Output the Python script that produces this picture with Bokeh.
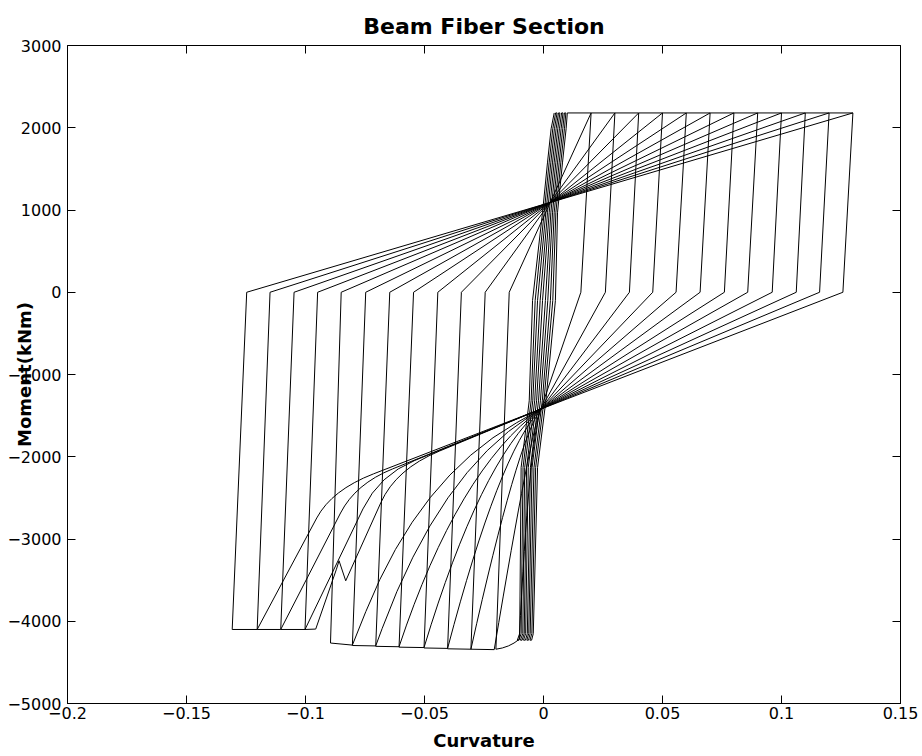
from bokeh.plotting import figure
from bokeh.models import Range1d, FixedTicker, LinearAxis, CustomJSTickFormatter
from bokeh.embed import file_html
from bokeh.resources import INLINE

# ---------------- data ----------------
x_ticks = [-0.2, -0.15, -0.1, -0.05, 0, 0.05, 0.1, 0.15]
x_tick_labels = ["\u22120.2", "\u22120.15", "\u22120.1", "\u22120.05", "0", "0.05", "0.1", "0.15"]
y_ticks = [-5000, -4000, -3000, -2000, -1000, 0, 1000, 2000, 3000]
y_tick_labels = ["\u22125000", "\u22124000", "\u22123000", "\u22122000", "\u22121000", "0", "1000", "2000", "3000"]

# dense bundle of small cycles near zero curvature
bundle_moment = [-4230, -4150, -2130, -1320, -100, 973, 1582, 1988, 2180]
bundle_curv = [  # one row per moment level, one column per branch
    [-0.0110, -0.0103, -0.0097, -0.0090, -0.0084, -0.0076, -0.0070, -0.0063, -0.0057, -0.0050],
    [-0.0100, -0.0094, -0.0087, -0.0081, -0.0075, -0.0068, -0.0062, -0.0056, -0.0049, -0.0043],
    [-0.0094, -0.0086, -0.0079, -0.0071, -0.0064, -0.0055, -0.0048, -0.0040, -0.0033, -0.0025],
    [-0.0060, -0.0052, -0.0045, -0.0037, -0.0029, -0.0021, -0.0013, -0.0005, 0.0002, 0.0010],
    [-0.0046, -0.0035, -0.0025, -0.0014, -0.0004, 0.0008, 0.0018, 0.0029, 0.0039, 0.0050],
    [-0.0004, 0.0003, 0.0010, 0.0017, 0.0024, 0.0031, 0.0038, 0.0045, 0.0052, 0.0059],
    [0.0017, 0.0024, 0.0031, 0.0038, 0.0045, 0.0052, 0.0059, 0.0066, 0.0073, 0.0080],
    [0.0032, 0.0039, 0.0046, 0.0053, 0.0060, 0.0067, 0.0074, 0.0081, 0.0088, 0.0095],
    [0.0045, 0.0051, 0.0057, 0.0063, 0.0069, 0.0076, 0.0082, 0.0088, 0.0094, 0.0100],
]

# large cycles (loading order)
pos_peak = [0.02, 0.03, 0.04, 0.05, 0.06, 0.07, 0.08, 0.09, 0.10, 0.11, 0.12, 0.13]
pos_moment = 2180
pos_zero = [0.0157, 0.0260, 0.0361, 0.0459, 0.0557, 0.0658, 0.0760, 0.0858, 0.0961, 0.1062, 0.1160, 0.1258]
pivot_curv, pivot_moment = -0.0011, -1420
knee_curv = [-0.0061, -0.0050, -0.0109, -0.0186, -0.0265, -0.0359, -0.0437, -0.0521, -0.0620, -0.0690, -0.0790, -0.0890]
knee_moment = [-1842, -1626, -1796, -1950, -2054, -2159, -2204, -2254, -2150, -2221, -2330, -2405]
knee_round = [1.0, 1.0, 1.0, 1.0, 1.0, 1.0, 0.9, 0.8, 0.3, 0.22, 0.2, 0.2]
reach_curv = [-0.0102, -0.0207, -0.0305, -0.0403, -0.0502, -0.0607, -0.0705, -0.0803, -0.0831, -0.1002, -0.1104, -0.1203]
reach_moment = [-4220, -4345, -4340, -4330, -4320, -4310, -4300, -4290, -3508, -4100, -4100, -4100]
wiggle_cycle = 0.10
wiggle_curv = [-0.0859, -0.0870, -0.0957]
wiggle_moment = [-3265, -3367, -4095]
first_bottom_curv, first_bottom_moment = -0.0144, -4320   # rounded foot of the 0.02 cycle
neg_peak = [-0.0200, -0.0305, -0.0403, -0.0502, -0.0607, -0.0705, -0.0803, -0.0895, -0.1002, -0.1104, -0.1203, -0.1308]
neg_peak_moment = [-4340, -4340, -4335, -4325, -4315, -4305, -4295, -4265, -4100, -4100, -4100, -4100]
neg_zero = [-0.0144, -0.0245, -0.0345, -0.0444, -0.0546, -0.0646, -0.0747, -0.0850, -0.0949, -0.1048, -0.1149, -0.1247]

# ---------------- build the path ----------------
runs_x, runs_y = [], []
qx0, qy0, qx1, qy1, qcx, qcy = [], [], [], [], [], []
cur_x, cur_y = [], []


def line_to(x, y):
    cur_x.append(x)
    cur_y.append(y)


def quad_to(cx, cy, x, y):
    global cur_x, cur_y
    sx, sy = cur_x[-1], cur_y[-1]
    runs_x.append(cur_x)
    runs_y.append(cur_y)
    qx0.append(sx); qy0.append(sy); qx1.append(x); qy1.append(y); qcx.append(cx); qcy.append(cy)
    cur_x, cur_y = [x], [y]


n_lanes = len(bundle_curv[0])
levels = list(range(len(bundle_moment)))
for lane in range(n_lanes):
    order = levels[::-1] if lane % 2 == 0 else levels
    for lv in order:
        line_to(bundle_curv[lv][lane], bundle_moment[lv])

for k, a in enumerate(pos_peak):
    line_to(a, pos_moment)
    line_to(pos_zero[k], 0)
    line_to(pivot_curv, pivot_moment)
    kx, ky = knee_curv[k], knee_moment[k]
    bx, by = reach_curv[k], reach_moment[k]
    r = knee_round[k]
    p1 = (kx + r * (pivot_curv - kx), ky + r * (pivot_moment - ky))
    p2 = (kx + r * (bx - kx), ky + r * (by - ky))
    line_to(*p1)
    quad_to(kx, ky, *p2)
    line_to(bx, by)
    if a == wiggle_cycle:
        for wx, wy in zip(wiggle_curv, wiggle_moment):
            line_to(wx, wy)
    if k == 0:
        quad_to(first_bottom_curv, first_bottom_moment, neg_peak[k], neg_peak_moment[k])
    else:
        line_to(neg_peak[k], neg_peak_moment[k])
    line_to(neg_zero[k], 0)
    line_to(a, pos_moment)

runs_x.append(cur_x)
runs_y.append(cur_y)

# ---------------- figure ----------------
FONT = "DejaVu Sans"
X0, X1, Y0, Y1 = -0.2, 0.15, -5000, 3000
p = figure(width=922, height=756, x_range=Range1d(X0, X1), y_range=Range1d(Y0, Y1),
           output_backend="svg", toolbar_location=None,
           min_border_left=67, min_border_right=22, min_border_top=45, min_border_bottom=53)
p.background_fill_color = "white"
p.border_fill_color = "white"
p.outline_line_color = "black"
p.outline_line_width = 1
p.xgrid.visible = False
p.ygrid.visible = False

p.title.text = "Beam Fiber Section"
p.title.align = "center"
p.title.text_font = FONT
p.title.text_font_size = "22px"
p.title.text_font_style = "bold"
p.title.text_color = "black"
p.title.standoff = 14

p.multi_line(runs_x, runs_y, line_color="black", line_width=1)
p.quadratic(x0=qx0, y0=qy0, x1=qx1, y1=qy1, cx=qcx, cy=qcy, line_color="black", line_width=1)

# inward tick marks along the top border (mirror of the x ticks)
units_per_px = (Y1 - Y0) / 658.0
p.segment(x0=x_ticks, y0=[Y1] * len(x_ticks), x1=x_ticks, y1=[Y1 - 8 * units_per_px] * len(x_ticks),
          line_color="black", line_width=1)

xt = FixedTicker(ticks=x_ticks)
yt = FixedTicker(ticks=y_ticks)


def style_axis(ax, ticker, labels=None):
    ax.ticker = ticker
    ax.axis_line_color = "black"
    ax.major_tick_line_color = "black"
    ax.major_tick_in = 8
    ax.major_tick_out = 0
    ax.minor_tick_line_color = None
    ax.major_label_text_font = FONT
    ax.major_label_text_font_size = "16px"
    ax.major_label_text_color = "black"
    if labels is not None:
        ax.major_label_overrides = {t: l for t, l in zip(ticker.ticks, labels)}
    else:
        ax.formatter = CustomJSTickFormatter(code="return ''")


xa = p.xaxis[0]
style_axis(xa, xt, x_tick_labels)
xa.major_label_standoff = 3
xa.axis_label = "Curvature"
xa.axis_label_text_font = FONT
xa.axis_label_text_font_size = "18px"
xa.axis_label_text_font_style = "bold"
xa.axis_label_text_color = "black"
xa.axis_label_standoff = 8

ya = p.yaxis[0]
style_axis(ya, yt, y_tick_labels)
ya.major_label_standoff = 6
ya.axis_label = "Moment(kNm)"
ya.axis_label_text_font = FONT
ya.axis_label_text_font_size = "18px"
ya.axis_label_text_font_style = "bold"
ya.axis_label_text_color = "black"
ya.axis_label_standoff = -31

right = LinearAxis()
style_axis(right, FixedTicker(ticks=y_ticks))
p.add_layout(right, "right")

open("out.html", "w").write(file_html(p, INLINE))
